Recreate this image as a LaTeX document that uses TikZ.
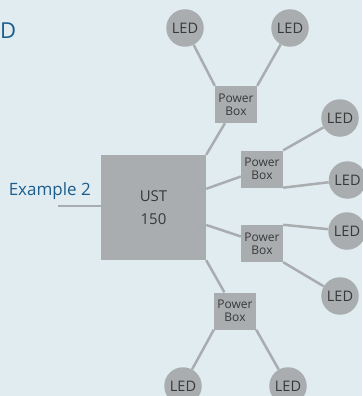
\documentclass[tikz,border=0pt]{standalone}
\usepackage{fontspec}
\setmainfont{Open Sans}
\definecolor{bgblue}{HTML}{E1ECF1}
\definecolor{boxgray}{HTML}{A9ADAF}
\definecolor{txtblue}{HTML}{1B5D8C}
\definecolor{txtdark}{HTML}{383838}
\begin{document}
\begin{tikzpicture}[x=1pt, y=-1pt, line join=round,
		led/.style={circle, fill=boxgray, minimum size=37.5pt, inner sep=0pt, text=txtdark, font=\fontsize{14.5}{15}\selectfont},
		pbox/.style={rectangle, fill=boxgray, minimum width=42pt, minimum height=37pt, inner sep=0pt, align=center, text=txtdark, font=\fontsize{12}{13.3}\selectfont},
		wire/.style={draw=boxgray, line width=2.5pt}]
			\fill[bgblue] (0,0) rectangle (362,396);
			\useasboundingbox (0,0) rectangle (362,396);
			\node[anchor=west, inner sep=0pt, text=txtblue, font=\fontsize{22}{22}\selectfont] (title) at (0,31) {D};
			\node[rectangle, fill=boxgray, minimum size=105pt, inner sep=0pt, align=center, text=txtdark, font=\fontsize{15}{23}\selectfont] (ust) at (153.5,207.5) {UST\\150};
			\node[anchor=base east, inner sep=0pt, text=txtblue, font=\fontsize{17}{17}\selectfont] (ex) at (91,195) {Example 2};
			\coordinate (exl) at (58,206);
			\draw[wire] (exl) -- (exl -| ust.west);
			\node[pbox] (pb1) at (236,104.5) {Power\\Box};
			\node[pbox] (pb2) at (262,169) {Power\\Box};
			\node[pbox] (pb3) at (262,243.5) {Power\\Box};
			\node[pbox] (pb4) at (235,311) {Power\\Box};
			\node[led] (led1) at (185,28) {LED};
			\node[led] (led2) at (290,28) {LED};
			\node[led] (led3) at (340,118) {LED};
			\node[led] (led4) at (347.5,180) {LED};
			\node[led] (led5) at (347,231) {LED};
			\node[led] (led6) at (340,296) {LED};
			\node[led] (led7) at (183,386) {LED};
			\node[led] (led8) at (288,386) {LED};
			\draw[wire] (led1) -- (pb1.north west);
			\draw[wire] (led2) -- (pb1.north east);
			\draw[wire] (pb1) -- (ust.north east);
			\draw[wire] (led3) -- (pb2.north east);
			\draw[wire] (led4) -- (pb2.south east);
			\draw[wire] (ust) -- (pb2);
			\draw[wire] (led5) -- (pb3.north east);
			\draw[wire] (led6) -- (pb3.south east);
			\draw[wire] (ust) -- (pb3);
			\draw[wire] (pb4) -- (ust.south east);
			\draw[wire] (led7) -- (pb4.south west);
			\draw[wire] (led8) -- (pb4.south east);
	\end{tikzpicture}
\end{document}
